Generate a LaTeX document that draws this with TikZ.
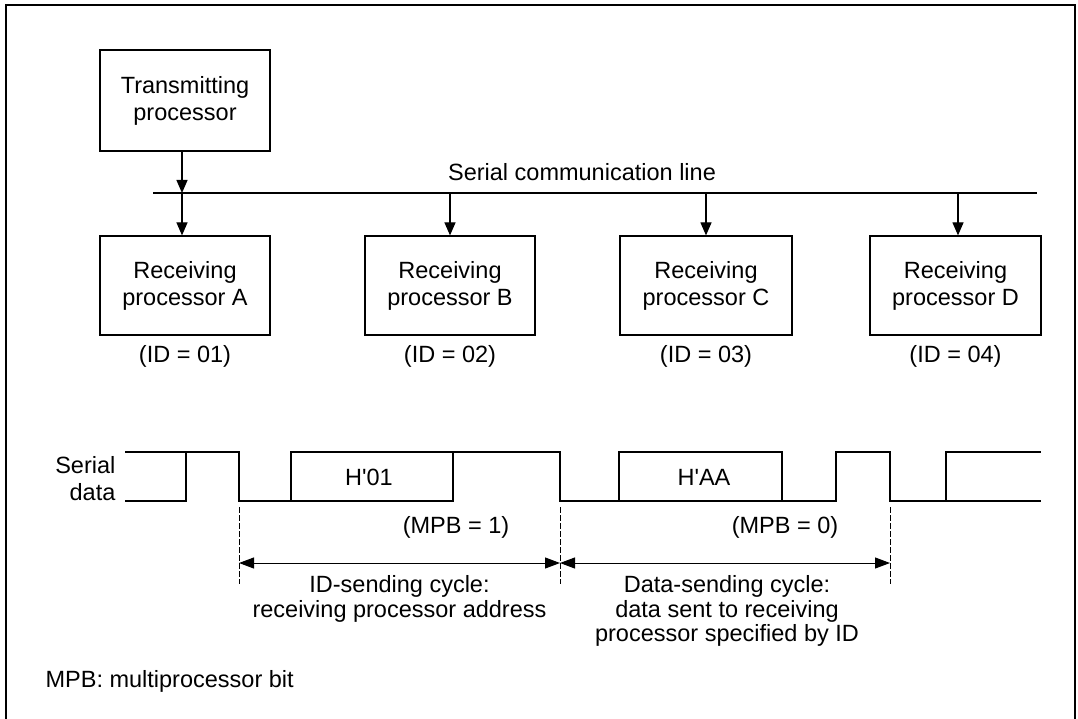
\documentclass[tikz,border=0pt]{standalone}
\usepackage{fontspec}
\setmainfont{Liberation Sans}
\usetikzlibrary{arrows.meta}
\begin{document}
\begin{tikzpicture}[x=1pt,y=-1pt,
  line width=1.2pt,
  every node/.style={font=\fontsize{23.5}{27}\selectfont, inner sep=0pt},
  box/.style={draw, minimum width=170pt, minimum height=99pt, align=center, line width=1.2pt},
  arr/.style={-{Triangle[length=13pt,width=11pt]}},
  dim/.style={{Triangle[length=15pt,width=11pt]}-{Triangle[length=15pt,width=11pt]}, line width=1pt},
  guide/.style={line width=0.6pt, dash pattern=on 6pt off 2pt},
  wave/.style={line width=1.2pt},
  lbl/.style={align=center, font=\fontsize{23.5}{24.5}\selectfont}]
\useasboundingbox (0,0) rectangle (1078,719);
% frame
\draw[line width=1.3pt] (6,725) -- (6,5) -- (1075,5) -- (1075,725);

% processors
\node[box, minimum height=101pt] (tx) at (185,100.5) {Transmitting\\processor};
\node[box] (ra) at (185,285.5) {Receiving\\processor A};
\node[box] (rb) at (450,285.5) {Receiving\\processor B};
\node[box, minimum width=172pt] (rc) at (706,285.5) {Receiving\\processor C};
\node[box, minimum width=171pt] (rd) at (955.5,285.5) {Receiving\\processor D};

\node (ida) at (185,356) {(ID = 01)};
\node (idb) at (450,356) {(ID = 02)};
\node (idc) at (706,356) {(ID = 03)};
\node (idd) at (955.5,356) {(ID = 04)};

% bus
\coordinate (busL) at (153,193);
\coordinate (busR) at (1037,193);
\coordinate (tap) at (182,193);
\draw (busL) -- (busR);
\node (buslabel) at (582,172) {Serial communication line};
\draw[arr] (tx.south -| tap) -- (tap);
\draw[arr] (tap) -- (ra.north -| tap);
\draw[arr] (rb.north |- busL) -- (rb.north);
\draw[arr] (rc.north |- busL) -- (rc.north);
\draw[arr] ([xshift=2.5pt]rd.north |- busL) -- ([xshift=2.5pt]rd.north);

% serial data waveform
\node[anchor=east, align=right] (sd) at (116,479) {Serial\\data};
\draw[wave] (125,452) -- (239,452) -- (239,501) -- (453,501) -- (453,452) -- (560,452)
  -- (560,501) -- (836,501) -- (836,452) -- (890,452) -- (890,501) -- (1041,501);
\draw[wave] (125,501) -- (186,501) -- (186,452);
\draw[wave] (291,501) -- (291,452) -- (453,452);
\draw[wave] (619,501) -- (619,452) -- (782,452) -- (782,501);
\draw[wave] (946,501) -- (946,452) -- (1041,452);
\node (h01) at (369,477) {H\textquotesingle 01};
\node (haa) at (704,477) {H\textquotesingle AA};
\node (mpb1) at (456,527) {(MPB = 1)};
\node (mpb0) at (785,527) {(MPB = 0)};

% guides and cycle arrows
\coordinate (g1t) at (239,507); \coordinate (g1b) at (239,584);
\coordinate (g2t) at (560,507); \coordinate (g2b) at (560,584);
\coordinate (g3t) at (890,507); \coordinate (g3b) at (890,584);
\draw[guide] (g1t) -- (g1b);
\draw[guide] (g2t) -- (g2b);
\draw[guide] (g3t) -- (g3b);
\draw[dim] (g1t |- 0,563) -- (g2t |- 0,563);
\draw[dim] (g2t |- 0,563) -- (g3t |- 0,563);
\node[lbl, anchor=north] (idcyc) at (399.5,575) {ID-sending cycle:\\receiving processor address};
\node[lbl, anchor=north] (datacyc) at (727,575) {Data-sending cycle:\\data sent to receiving\\processor specified by ID};

\node[anchor=west] (note) at (45,681) {MPB: multiprocessor bit};
\end{tikzpicture}
\end{document}
